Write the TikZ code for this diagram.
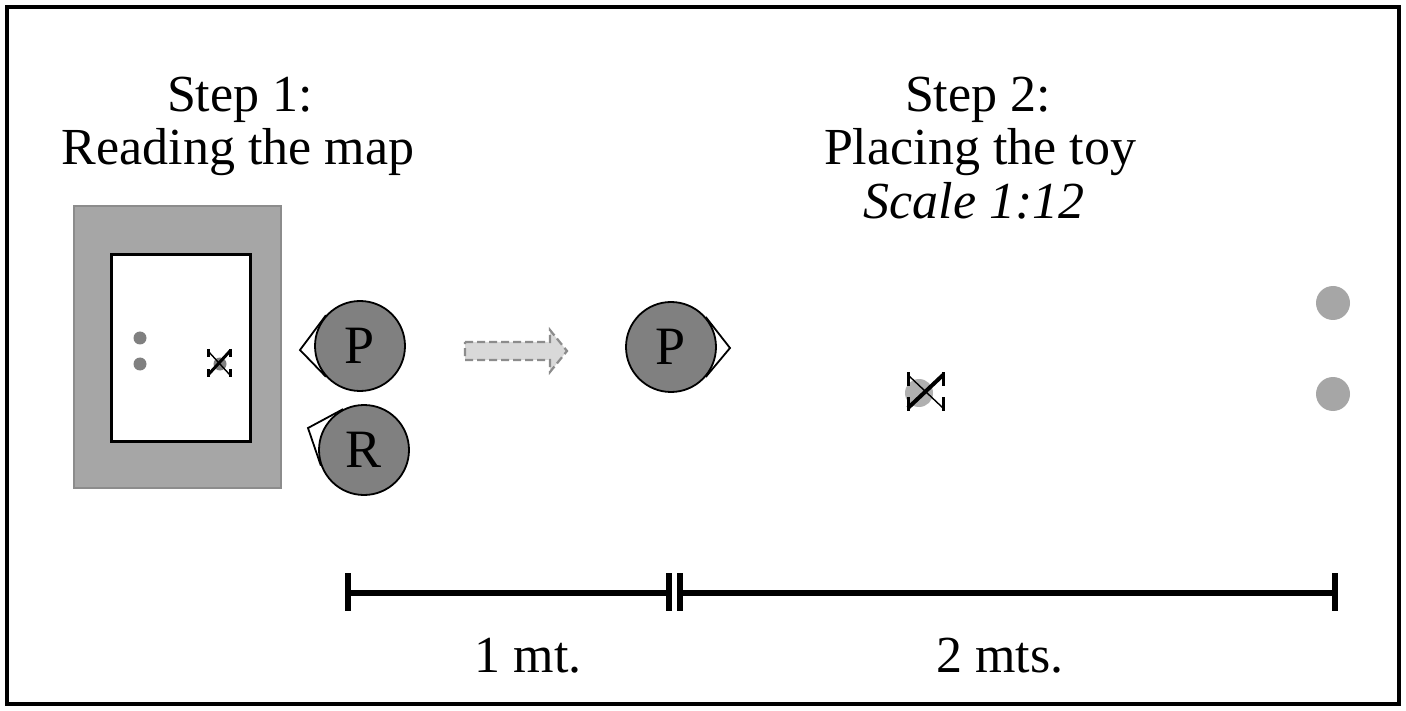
\documentclass[tikz,border=0pt]{standalone}
\usepackage{fontspec}
\setmainfont{Liberation Serif}
\usetikzlibrary{calc}
\definecolor{mapgray}{HTML}{A6A6A6}
\definecolor{mapedge}{HTML}{8C8C8C}
\definecolor{headgray}{HTML}{808080}
\definecolor{dotgray}{HTML}{808080}
\definecolor{lightdot}{HTML}{A6A6A6}
\definecolor{toydot}{HTML}{B0B0B0}
\definecolor{arrowfill}{HTML}{D9D9D9}
\begin{document}
\begin{tikzpicture}[x=1pt,y=-1pt,
  lbl/.style={font=\fontsize{52}{60}\selectfont, inner sep=0pt, anchor=base},
  head/.style={circle, draw=black, line width=1.8pt, fill=headgray, minimum size=90pt, inner sep=0pt, font=\fontsize{54}{60}\selectfont},
  nose/.style={draw=black, line width=1.8pt},
  bar/.style={line width=6pt},
  tickmark/.style={line width=6pt},
  blockarrow/.style={fill=arrowfill, draw=mapedge, line width=2.2pt, dash pattern=on 8pt off 4pt, line join=miter},
  xthin/.style={line width=1.4pt},
  xthick/.style={line width=3pt}
]
\useasboundingbox (0,0) rectangle (1406,711);
\fill[white] (0,0) rectangle (1406,711);
\draw[line width=4pt] (7,7) rectangle (1399,704);

% titles
\node[lbl] (s1a) at (240,112) {Step 1:};
\node[lbl] (s1b) at (238,165) {Reading the map};
\node[lbl] (s2a) at (978,112) {Step 2:};
\node[lbl] (s2b) at (980,165) {Placing the toy};
\node[lbl] (s2c) at (974,219) {\itshape Scale 1:12};

% map
\draw[fill=mapgray, draw=mapedge, line width=2pt] (74,206) rectangle (281,488);
\draw[fill=white, draw=black, line width=3pt] (111,255) rectangle (250,441);
\fill[dotgray] (140,338) circle (6.5);
\fill[dotgray] (140,364) circle (6.5);
\fill[dotgray] (220,364) circle (6.5);
\draw[xthin] (208,351) -- (230,375);
\draw[xthick] (208,375) -- (230,351);
\draw[xthick] (208,349) -- (208,357);
\draw[xthick] (208,369) -- (208,377);
\draw[xthick] (230,349) -- (230,357);
\draw[xthick] (230,369) -- (230,377);

% heads
\node[head] (P1) at (360,346) {P};
\coordinate (P1tip) at (300,350);
\draw[nose] (P1.138) -- (P1tip) -- (P1.222);
\node[head] (R1) at (364,450) {R};
\coordinate (R1tip) at (308,428);
\draw[nose] (R1.117) -- (R1tip) -- (R1.200);
\node[head] (P2) at (671,347) {P};
\coordinate (P2tip) at (730,348);
\draw[nose] (P2.41) -- (P2tip) -- (P2.-41);

% dashed block arrow
\draw[blockarrow] (465,342) -- (550,342) -- (550,330) -- (567,351) -- (550,372) -- (550,360) -- (465,360) -- cycle;

% toy position
\fill[toydot] (919,393) circle (14);
\draw[xthin] (908,375) -- (943,408);
\draw[line width=4pt] (908,408) -- (943,375);
\draw[xthick] (908,372) -- (908,386);
\draw[xthick] (908,397) -- (908,411);
\draw[xthick] (943,372) -- (943,386);
\draw[xthick] (943,397) -- (943,411);

% room dots
\fill[lightdot] (1333,303) circle (17);
\fill[lightdot] (1333,394) circle (17);

% scale bars
\coordinate (b0) at (348,593);
\coordinate (b1) at (669,593);
\coordinate (b2) at (680,593);
\coordinate (b3) at (1335,593);
\draw[bar] (b0) -- (b1);
\draw[bar] (b2) -- (b3);
\foreach \b in {b0,b1,b2,b3}{
  \draw[tickmark] ($(\b)+(0,-20)$) -- ($(\b)+(0,18)$);
}
\node[lbl] (l1) at (528,672) {1 mt.};
\node[lbl] (l2) at (1000,672) {2 mts.};
\end{tikzpicture}
\end{document}
